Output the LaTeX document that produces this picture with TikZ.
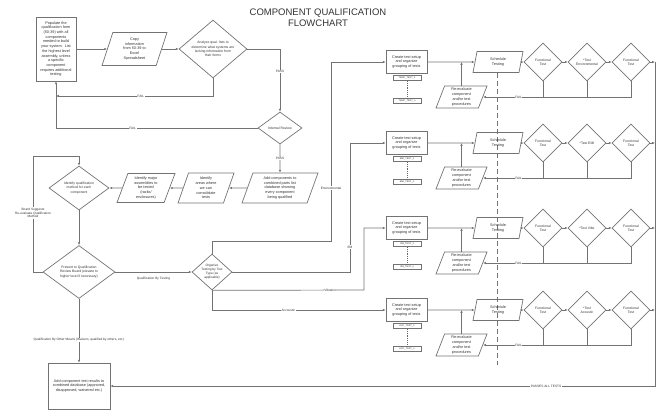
\documentclass[tikz,border=0pt]{standalone}
\usepackage{fontspec}
\setmainfont{Liberation Sans}
\usetikzlibrary{shapes.geometric,arrows.meta}
\tikzset{
 ln/.style={draw=black!55, line width=0.7pt},
 arr/.style={ln, -{Latex[length=2.8pt,width=2.4pt]}},
 txt/.style={text=black!80, font=\fontsize{3.8}{4.7}\selectfont, align=center},
 box/.style={txt, draw=black!55, line width=0.7pt, rectangle, inner sep=0.5pt},
 para/.style={txt, draw=black!55, line width=0.7pt, trapezium, trapezium left angle=64, trapezium right angle=116, trapezium stretches body=true, inner sep=0pt},
 dia/.style={txt, draw=black!55, line width=0.7pt, diamond, inner sep=0pt, font=\fontsize{3.4}{4.3}\selectfont},
 lbl/.style={txt, fill=white, inner sep=0.6pt, font=\fontsize{3.2}{3.8}\selectfont},
 tinybox/.style={box, font=\fontsize{2.4}{2.8}\selectfont, minimum width=28pt, minimum height=5pt, inner sep=0pt},
 dotl/.style={draw=black!60, line width=0.9pt, dash pattern=on 0.9pt off 1pt},
 sep/.style={draw=black!55, line width=0.7pt, dash pattern=on 5pt off 3pt},
}
\begin{document}
\begin{tikzpicture}[x=1pt,y=-1pt]
\useasboundingbox (0,0) rectangle (659,410);
% separator
\coordinate (dashtop) at (497,73);
\coordinate (dashend) at (497,365);
\draw[sep] (dashtop) -- (dashend);

\node[txt, font=\fontsize{9.5}{11}\selectfont, text=black!80] (title) at (318,18) {COMPONENT QUALIFICATION\\FLOWCHART};

\node[box, minimum width=40pt, minimum height=64pt] (pop) at (56,49) {Populate the\\qualification form\\(50-39) with all\\components\\needed to build\\your system.\ \ List\\the highest level\\assembly, unless\\a specific\\component\\requires additional\\testing};
\node[para, minimum width=65pt, minimum height=33pt] (copy) at (134.5,49) {Copy\\information\\from 50-39 to\\Excel\\Spreadsheet};
\node[dia, minimum width=68pt, minimum height=57pt] (ana) at (213,49) {Analyze qual. lists to\\determine what systems are\\lacking information from\\their forms};
\node[dia, minimum width=44pt, minimum height=32pt] (ir) at (280,128) {Internal Review};
\node[para, minimum width=76pt, minimum height=30pt] (add) at (280,188) {Add components to\\combined parts list\\database showing\\every component\\being qualified};
\node[para, minimum width=56pt, minimum height=30pt] (areas) at (206,188) {Identify\\areas where\\we can\\consolidate\\tests};
\node[para, minimum width=58pt, minimum height=29pt] (major) at (146,188) {Identify major\\assemblies to\\be tested\\(racks/\\enclosures)};
\node[dia, minimum width=60pt, minimum height=44pt] (iq) at (79,188) {Identify qualification\\method for each\\component};
\node[dia, minimum width=72pt, minimum height=53pt] (pres) at (79,272) {Present to Qualification\\Review Board (elevate to\\higher level if necessary)};
\node[dia, minimum width=40pt, minimum height=36pt, font=\fontsize{3.2}{3.9}\selectfont] (org) at (212,272) {Organize\\Testing by Test\\Type (as\\applicable)};
\node[box, minimum width=62pt, minimum height=46pt] (res) at (79,386) {Add component test results to\\combined database (approved,\\disapproved, waivered etc.)};

\foreach \r/\i/\a/\e in {62/1/TEMP/{*Test\\Environmental}, 143/2/EMI/{*Test EMI}, 228/3/VIB/{*Test Vibe}, 310/4/ACC/{*Test\\Acoustic}} {
  \node[box, minimum width=41pt, minimum height=23pt] (cr\i) at (406.5,\r) {Create test setup\\and organize\\grouping of tests};
  \node[tinybox] (ta\i) at (407,\r+16) {\a\_TEST\_1};
  \node[tinybox] (tb\i) at (407,\r+39) {\a\_TEST\_n};
  \draw[dotl] (ta\i.south) -- (tb\i.north);
  \node[para, minimum width=50pt, minimum height=21pt] (sc\i) at (498,\r) {Schedule\\Testing};
  \node[para, minimum width=51pt, minimum height=22pt] (re\i) at (461.5,\r+35) {Re-evaluate\\component\\and/or test\\procedures};
  \node[dia, minimum width=38pt, minimum height=38pt] (fa\i) at (543,\r) {Functional\\Test};
  \node[dia, minimum width=38pt, minimum height=38pt] (te\i) at (587,\r) {\e};
  \node[dia, minimum width=38pt, minimum height=38pt] (fb\i) at (631,\r) {Functional\\Test};
  \coordinate (rv\i) at (655,\r);
  \draw[arr] (cr\i.east) -- (sc\i.west);
  \draw[arr] (re\i.north) -- (re\i.north |- cr\i.east);
  \draw[arr] (sc\i.east) -- (fa\i.west);
  \draw[arr] (fa\i.east) -- (te\i.west);
  \draw[arr] (te\i.east) -- (fb\i.west);
  \draw[arr] (fb\i.east) -- (rv\i);
  \draw[ln] (fa\i.south) -- (fa\i.south |- re\i.east);
  \draw[ln] (te\i.south) -- (te\i.south |- re\i.east);
  \draw[arr] (fb\i.south) |- node[lbl, pos=0.88]{FAIL} (re\i.east);
}

% left part connectors
\draw[arr] (pop.east) -- (copy.west);
\draw[arr] (copy.east) -- (ana.west);
\draw[arr] (ana.east) -| node[lbl, pos=0.68]{PASS} (ir.north);
\coordinate (f1) at (56,96);
\draw[arr] (ana.south) |- node[lbl, pos=0.73]{FAIL} (f1);
\draw[arr] (ir.west) -| node[lbl, pos=0.31]{FAIL} (pop.south);
\draw[arr] (ir.south) -- node[lbl]{PASS} (add.north);
\draw[arr] (add.west) -- (areas.east);
\draw[arr] (areas.west) -- (major.east);
\draw[arr] (major.west) -- (iq.east);
\draw[arr] (iq.south) -- (pres.north);
\coordinate (lp) at (33,156);
\draw[arr] (pres.west) -| (lp) -| (iq.north);
\node[lbl] (board) at (33,213) {Board Suggests\\Re-evaluate Qualification\\Method};
\draw[arr] (pres.east) -- node[txt, below, yshift=-1.5pt, font=\fontsize{3.2}{3.8}\selectfont]{Qualification By Testing} (org.west);
\draw[arr] (pres.south) -- node[lbl, pos=0.64]{Qualification By Other Means (Waivers, qualified by others, etc.)} (res.north);

% branches
\coordinate (envc) at (331,241);
\draw[arr] (org.north) |- (envc) |- node[lbl, pos=0.148]{Environmental} (cr1.west);
\coordinate (emc) at (350,272);
\draw[arr] (org.east) -- (emc) |- node[lbl, pos=0.097]{EM} (cr2.west);
\coordinate (vic) at (364,290);
\draw[arr] (org.south) -- node[lbl, pos=0.78]{Vibration} (vic) |- (cr3.west);
\draw[arr] (org.south) |- node[lbl, pos=0.72]{Accoustic} (cr4.west);

% passes
\draw[arr] (rv1) |- node[lbl, pos=0.6]{PASSES ALL TESTS} (res.east);
\end{tikzpicture}
\end{document}
